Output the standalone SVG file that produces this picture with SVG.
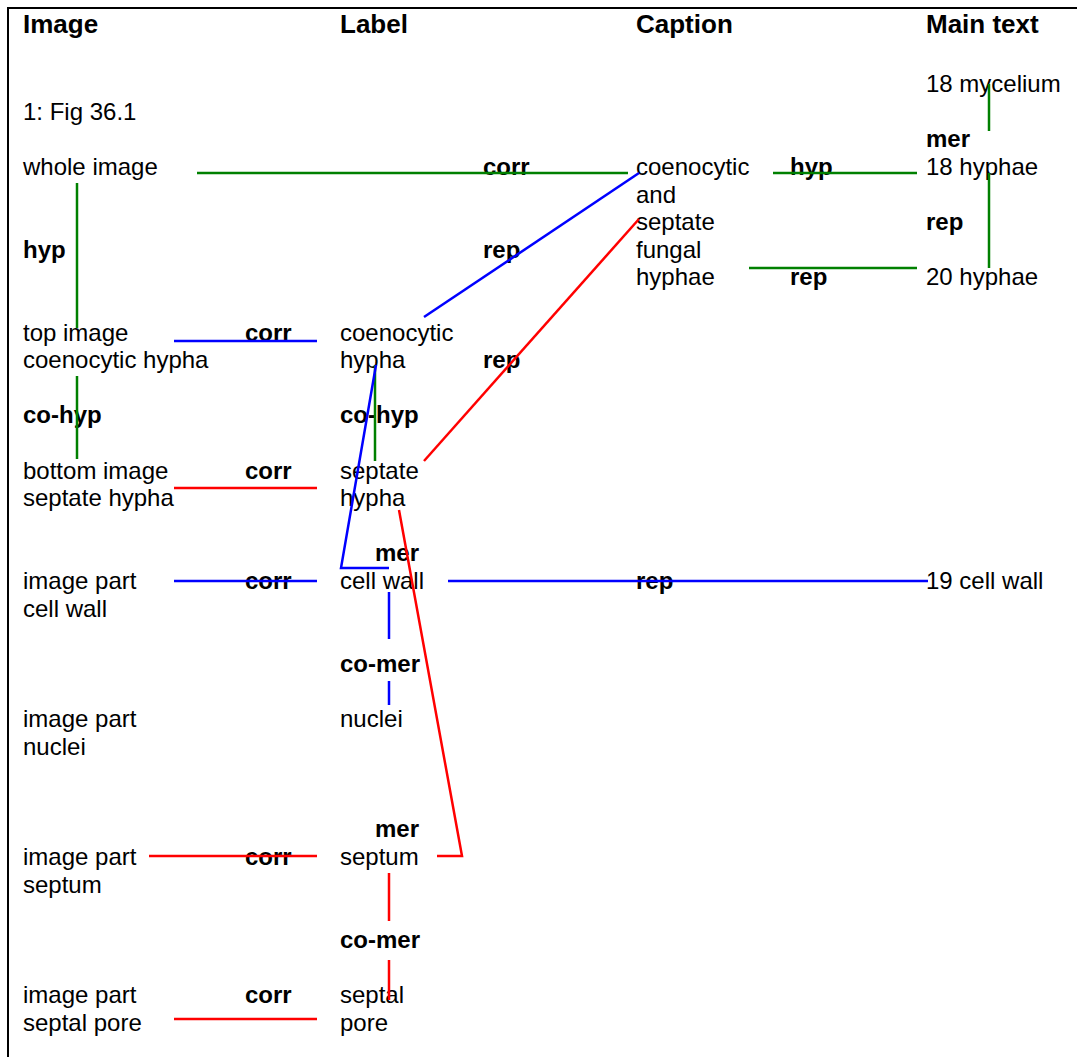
<svg xmlns="http://www.w3.org/2000/svg" width="1077" height="1057" viewBox="0 0 1077 1057">
<style>
text{font-family:"Liberation Sans",Arial,sans-serif;font-size:24px;fill:#000}
.h{font-size:26px;font-weight:bold}
.b{font-weight:bold}
.g{stroke:#008000;stroke-width:2.5;fill:none}
.u{stroke:#0000FF;stroke-width:2.5;fill:none}
.r{stroke:#FF0000;stroke-width:2.5;fill:none}
.frame{stroke:#000;stroke-width:2;fill:none}
</style>
<rect width="1077" height="1057" fill="#fff"/>
<path class="frame" d="M8,1057 V8 H1077"/>
<g id="headers">
<text class="h" x="23" y="33">Image</text>
<text class="h" x="340" y="33">Label</text>
<text class="h" x="636" y="33">Caption</text>
<text class="h" x="926" y="33">Main text</text>
</g>
<g id="fig"><text x="23" y="120">1: Fig 36.1</text></g>
<g id="n-whole"><text x="23" y="175">whole image</text></g>
<g id="n-top"><text x="23" y="341">top image</text><text x="23" y="368">coenocytic hypha</text></g>
<g id="n-bottom"><text x="23" y="479">bottom image</text><text x="23" y="506">septate hypha</text></g>
<g id="n-ip-cellwall"><text x="23" y="589">image part</text><text x="23" y="617">cell wall</text></g>
<g id="n-ip-nuclei"><text x="23" y="727">image part</text><text x="23" y="755">nuclei</text></g>
<g id="n-ip-septum"><text x="23" y="865">image part</text><text x="23" y="893">septum</text></g>
<g id="n-ip-pore"><text x="23" y="1003">image part</text><text x="23" y="1031">septal pore</text></g>
<g id="l-coeno"><text x="340" y="341">coenocytic</text><text x="340" y="368">hypha</text></g>
<g id="l-septate"><text x="340" y="479">septate</text><text x="340" y="506">hypha</text></g>
<g id="l-cellwall"><text x="340" y="589">cell wall</text></g>
<g id="l-nuclei"><text x="340" y="727">nuclei</text></g>
<g id="l-septum"><text x="340" y="865">septum</text></g>
<g id="l-pore"><text x="340" y="1003">septal</text><text x="340" y="1031">pore</text></g>
<g id="c-caption"><text x="636" y="175">coenocytic</text><text x="636" y="203">and</text><text x="636" y="230">septate</text><text x="636" y="258">fungal</text><text x="636" y="285">hyphae</text></g>
<g id="m-mycelium"><text x="926" y="92">18 mycelium</text></g>
<g id="m-hyphae18"><text x="926" y="175">18 hyphae</text></g>
<g id="m-hyphae20"><text x="926" y="285">20 hyphae</text></g>
<g id="m-cellwall"><text x="926" y="589">19 cell wall</text></g>
<g id="connectors">
<g id="edge-labels">
<text class="b" x="483" y="175">corr</text>
<text class="b" x="790" y="175">hyp</text>
<text class="b" x="926" y="147">mer</text>
<text class="b" x="23" y="258">hyp</text>
<text class="b" x="483" y="258">rep</text>
<text class="b" x="926" y="230">rep</text>
<text class="b" x="790" y="285">rep</text>
<text class="b" x="245" y="341">corr</text>
<text class="b" x="483" y="368">rep</text>
<text class="b" x="23" y="423">co-hyp</text>
<text class="b" x="340" y="423">co-hyp</text>
<text class="b" x="245" y="479">corr</text>
<text class="b" x="375" y="561">mer</text>
<text class="b" x="245" y="589">corr</text>
<text class="b" x="636" y="589">rep</text>
<text class="b" x="340" y="672">co-mer</text>
<text class="b" x="375" y="837">mer</text>
<text class="b" x="245" y="865">corr</text>
<text class="b" x="340" y="948">co-mer</text>
<text class="b" x="245" y="1003">corr</text>
</g>
<path class="g" d="M197,173 H628"/>
<path class="g" d="M773,173 H917"/>
<path class="g" d="M749,268 H917"/>
<path class="g" d="M989,84 V131"/>
<path class="g" d="M989,173 V268"/>
<path class="g" d="M77,183 V328"/>
<path class="g" d="M77,376 V459"/>
<path class="g" d="M375,365 V461"/>
<path class="u" d="M174,341 H317"/>
<path class="u" d="M424,317 L639,173"/>
<path class="u" d="M376,365 L341,568 H389"/>
<path class="u" d="M174,581 H317"/>
<path class="u" d="M448,581 H928"/>
<path class="u" d="M389,592 V639"/>
<path class="u" d="M389,681 V705"/>
<path class="r" d="M174,488 H317"/>
<path class="r" d="M424,461 L639,219"/>
<path class="r" d="M399,510 L462,856 H437"/>
<path class="r" d="M149,856 H317"/>
<path class="r" d="M389,873 V921"/>
<path class="r" d="M389,960 V1000"/>
<path class="r" d="M174,1019 H317"/>
</g>
</svg>
